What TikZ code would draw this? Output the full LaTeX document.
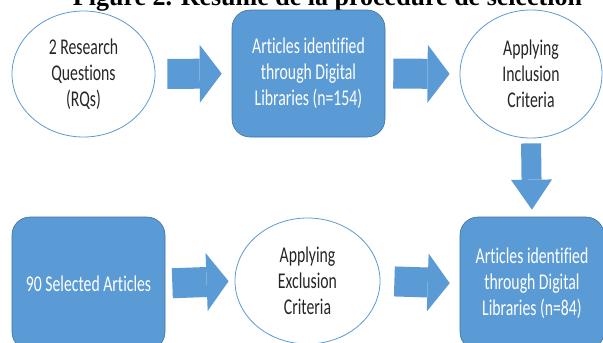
\documentclass[tikz,border=0pt]{standalone}
\usepackage{fontspec}
\newfontfamily\boxfont{Carlito}[FakeStretch=0.70, Ligatures=NoCommon]
\newfontfamily\capfont{Liberation Serif}
\usepackage{tikz}
\usetikzlibrary{arrows.meta,shapes.geometric}
\definecolor{officeblue}{HTML}{5B9BD5}
\definecolor{officeline}{HTML}{41719C}

\begin{document}
\begin{tikzpicture}[
    x=1pt, y=-1pt, % pixel-like units, y going down
    txt/.style    = {align=center, inner sep=0pt, font=\boxfont\fontsize{22.5}{26}\selectfont},
    oval/.style   = {ellipse, draw=officeblue, line width=0.8pt, txt, text=black!85},
    blk/.style    = {rectangle, rounded corners=18pt, draw=officeline, line width=0.6pt, fill=officeblue, txt, text=white},
    % Big block arrows
    fatarr/.style = {officeblue, line width=30pt, -{Triangle[width=58pt, length=22pt, line width=0pt]}},
    downarr/.style = {officeblue, line width=20pt, -{Triangle[width=41pt, length=30pt, line width=0pt]}}
  ]

  \fill[white] (0,0) rectangle (603,343);
  \useasboundingbox (0,0) rectangle (603,343);

  % ===== Caption (cut at the top) =====
  \node[anchor=base, inner sep=0pt, font=\capfont\bfseries\fontsize{26}{30}\selectfont] (ttl) at (327.5,5) {Figure 2. Résumé de la procédure de sélection};

  % ===== Top row =====
  \node[oval, minimum width=143pt, minimum height=126pt] (rqs) at (83.5,74) {2 Research\\Questions\\(RQs)};
  \node[blk, minimum width=153pt, minimum height=127pt] (found) at (308.5,73.5) {Articles identified\\through Digital\\Libraries (n=154)};
  \node[oval, minimum width=142pt, minimum height=128pt] (incl) at (531,74) {Applying\\Inclusion\\Criteria};

  % ===== Bottom row =====
  \node[blk, minimum width=153pt, minimum height=133pt] (chosen) at (88.5,283.5) {90 Selected Articles};
  \node[oval, minimum width=145pt, minimum height=126pt] (excl) at (307.5,281) {Applying\\Exclusion\\Criteria};
  \node[blk, minimum width=144pt, minimum height=133pt] (kept) at (532,283.5) {Articles identified\\through Digital\\Libraries (n=84)};

  % Arrows
  \foreach \u/\v/\a/\b in {rqs/found/12pt/10pt, found/incl/8pt/10pt, chosen/excl/7pt/6pt, excl/kept/14pt/10pt}{
    \draw[fatarr, shorten <=\a, shorten >=\b] (\u.east) -- (\v.west);
  }
  \draw[downarr, shorten <=5pt, shorten >=7pt] (incl.south) -- (kept.north);

\end{tikzpicture}
\end{document}
